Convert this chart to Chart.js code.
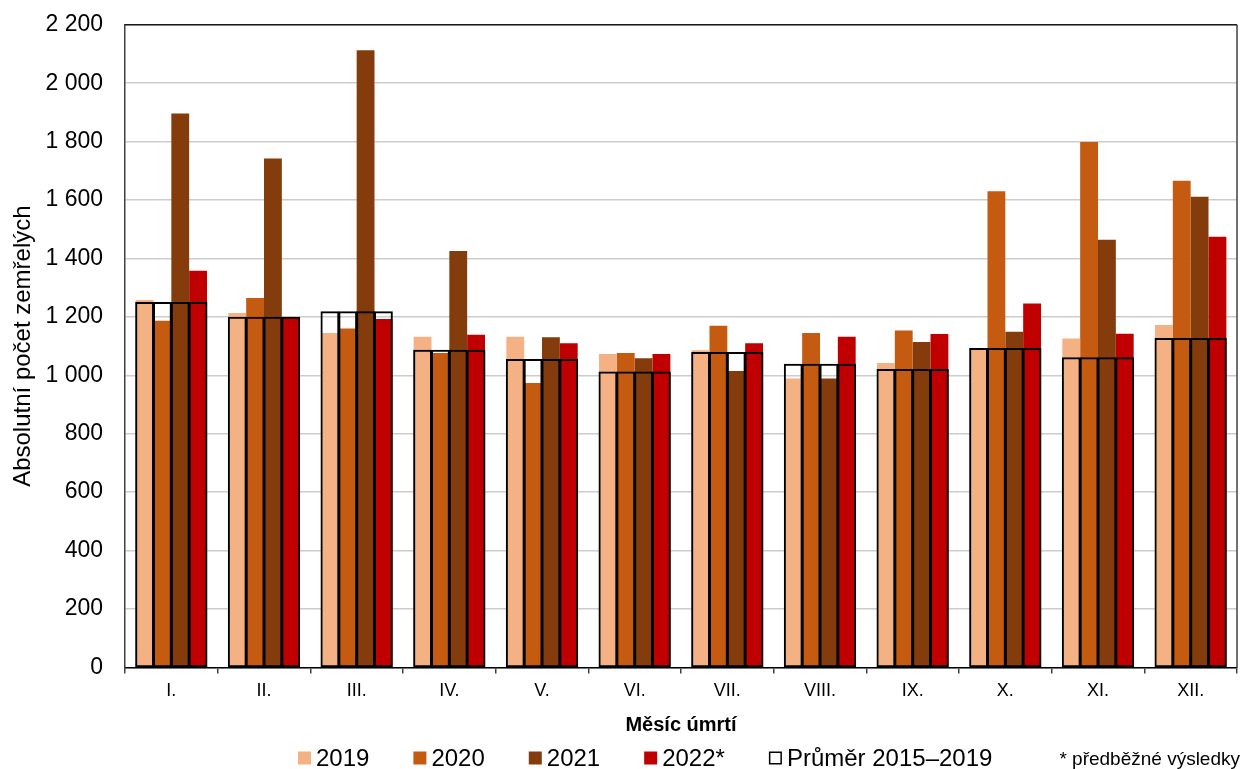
<!DOCTYPE html>
<html>
<head>
<meta charset="utf-8">
<script src="https://cdn.jsdelivr.net/npm/chart.js@4.4.1/dist/chart.umd.min.js"></script>
<style>
  html, body { margin: 0; padding: 0; background: #fff; }
  #wrap { width: 1242px; height: 769px; position: relative; }
</style>
</head>
<body>
<div id="wrap"><canvas id="c" width="1242" height="769"></canvas></div>
<script>
const months = ['I.', 'II.', 'III.', 'IV.', 'V.', 'VI.', 'VII.', 'VIII.', 'IX.', 'X.', 'XI.', 'XII.'];
const v2019 = [1258, 1213, 1145, 1132, 1132, 1073, 1086, 989, 1042, 1092, 1126, 1172];
const v2020 = [1187, 1265, 1160, 1076, 974, 1076, 1170, 1145, 1153, 1630, 1799, 1666];
const v2021 = [1896, 1742, 2113, 1426, 1130, 1058, 1015, 989, 1114, 1149, 1464, 1611];
const v2022 = [1358, 1198, 1193, 1139, 1110, 1073, 1110, 1132, 1141, 1246, 1142, 1474];
const avg1519 = [1249, 1199, 1218, 1086, 1054, 1011, 1078, 1038, 1020, 1092, 1060, 1126];
const yTicks = [0, 200, 400, 600, 800, 1000, 1200, 1400, 1600, 1800, 2000, 2200];

const seriesLabels = ['2019', '2020', '2021', '2022*'];
const seriesColors = ['#F4B183', '#C55A11', '#843C0C', '#C00000'];
const seriesValues = [v2019, v2020, v2021, v2022];
const avgLabel = 'Průměr 2015–2019';
const footnote = '* předběžné výsledky';

const FONT = "'Liberation Sans', Arial, sans-serif";

const datasets = [];
// average outlines: one per group slot, drawn on top
for (let i = 0; i < 4; i++) {
  datasets.push({
    label: avgLabel,
    data: avg1519,
    stack: 's' + i,
    order: 0,
    backgroundColor: 'rgba(0,0,0,0)',
    borderColor: '#000000',
    borderWidth: 1,
    inflateAmount: 0.5,
    borderSkipped: false,
    barPercentage: 1,
    categoryPercentage: 0.77
  });
}
for (let i = 0; i < 4; i++) {
  datasets.push({
    label: seriesLabels[i],
    data: seriesValues[i],
    stack: 's' + i,
    order: 1,
    backgroundColor: seriesColors[i],
    borderWidth: 0,
    barPercentage: 1,
    categoryPercentage: 0.77
  });
}

const fmt = v => String(v).replace(/\B(?=(\d{3})+(?!\d))/g, ' ');

const framePlugin = {
  id: 'frame',
  afterDatasetsDraw(chart) {
    const a = chart.chartArea, ctx = chart.ctx;
    ctx.save();
    ctx.strokeStyle = '#1a1a1a';
    ctx.lineWidth = 1.5;
    ctx.beginPath();
    ctx.moveTo(a.left, a.top);
    ctx.lineTo(a.right, a.top);
    ctx.stroke();
    ctx.strokeStyle = '#404040';
    ctx.beginPath();
    ctx.moveTo(a.right, a.top);
    ctx.lineTo(a.right, a.bottom);
    ctx.stroke();
    ctx.restore();
  }
};

const legendPlugin = {
  id: 'customLegend',
  afterDraw(chart) {
    const ctx = chart.ctx;
    const y = chart.height - 11;
    const box = 13, gapText = 5, gapItem = 44;
    ctx.save();
    ctx.font = '24px ' + FONT;
    ctx.textBaseline = 'middle';
    ctx.textAlign = 'left';
    ctx.fillStyle = '#000';
    let x = 298;
    const items = seriesLabels.map((l, i) => ({ label: l, color: seriesColors[i] }));
    items.push({ label: avgLabel, color: null });
    items.forEach(it => {
      if (it.color) {
        ctx.fillStyle = it.color;
        ctx.fillRect(x, y - box / 2, box, box);
      } else {
        ctx.fillStyle = '#fff';
        ctx.fillRect(x, y - box / 2, box, box);
        ctx.strokeStyle = '#000';
        ctx.lineWidth = 1.5;
        ctx.strokeRect(x + 0.75, y - box / 2 + 0.75, box - 1.5, box - 1.5);
      }
      ctx.fillStyle = '#000';
      const tx = x + box + gapText;
      ctx.fillText(it.label, tx, y + 1);
      x = tx + ctx.measureText(it.label).width + gapItem;
    });
    ctx.font = '19px ' + FONT;
    ctx.textAlign = 'right';
    ctx.fillText(footnote, 1240, y + 2);
    ctx.restore();
  }
};

new Chart(document.getElementById('c'), {
  type: 'bar',
  data: { labels: months, datasets },
  plugins: [framePlugin, legendPlugin],
  options: {
    responsive: false,
    animation: false,
    layout: { padding: { top: 7, right: 5, bottom: 28, left: 0 } },
    plugins: {
      legend: { display: false },
      tooltip: { enabled: false }
    },
    scales: {
      x: {
        grid: {
          display: true,
          drawOnChartArea: false,
          drawTicks: true,
          tickLength: 6,
          color: '#404040',
          lineWidth: 1.5,
          offset: true
        },
        border: { display: true, color: '#000', width: 1.5 },
        ticks: { font: { family: FONT, size: 18 }, color: '#000', padding: 7, maxRotation: 0 },
        title: {
          display: true,
          text: 'Měsíc úmrtí',
          font: { family: FONT, size: 20, weight: 'bold' },
          color: '#000',
          padding: { top: 4, bottom: 4 }
        }
      },
      y: {
        stacked: false,
        min: 0,
        max: 2200,
        afterBuildTicks(scale) { scale.ticks = yTicks.map(v => ({ value: v })); },
        afterFit(scale) { scale.width = 125; },
        grid: {
          color: '#cccccc',
          lineWidth: 1.5,
          drawTicks: true,
          tickLength: 11,
          tickColor: 'rgba(0,0,0,0)'
        },
        border: { display: true, color: '#404040', width: 1.5 },
        ticks: {
          font: { family: FONT, size: 23 },
          color: '#000',
          padding: 11,
          callback: v => fmt(v)
        },
        title: {
          display: true,
          text: 'Absolutní počet zemřelých',
          font: { family: FONT, size: 24 },
          color: '#000',
          padding: { top: 9, bottom: 0 }
        }
      }
    }
  }
});
</script>
</body>
</html>
